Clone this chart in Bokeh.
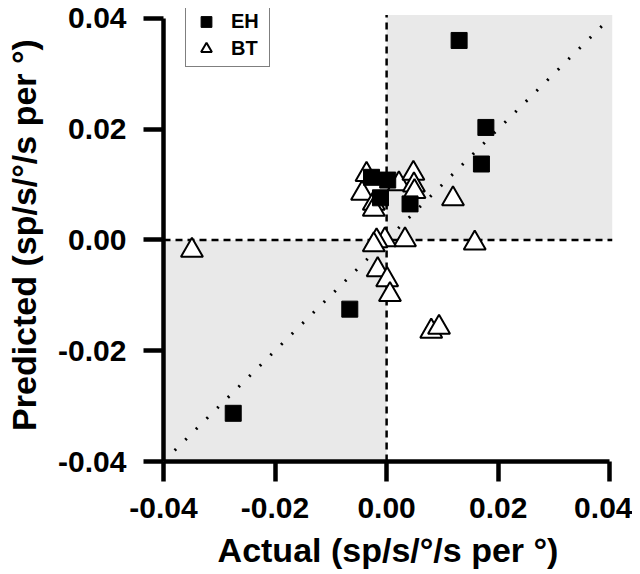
from bokeh.plotting import figure
from bokeh.models import Range1d, FixedTicker, Legend, LegendItem
from bokeh.embed import file_html
from bokeh.resources import INLINE

# ---- data ----
eh_x = [0.0130, 0.0178, 0.0170, 0.0042, -0.0066, -0.0275, -0.0027, 0.0002, -0.0011]
eh_y = [0.0360, 0.0203, 0.0137, 0.0065, -0.0125, -0.0313, 0.0113, 0.0108, 0.0076]

bt_x = [-0.0349, -0.0036, -0.0044, -0.0023, -0.0023, 0.0022, 0.0048, 0.0049, 0.0050,
        0.0119, 0.0158, 0.0033, -0.0003, -0.0018, -0.0023, -0.0016, 0.0001, 0.0006,
        0.0080, 0.0094]
bt_y = [-0.0019, 0.0118, 0.0084, 0.0066, 0.0055, 0.0101, 0.0120, 0.0099, 0.0087,
        0.0074, -0.0006, 0.0000, 0.0000, -0.0002, -0.0009, -0.0054, -0.0072, -0.0099,
        -0.0165, -0.0158]

ticks = [-0.04, -0.02, 0.0, 0.02, 0.04]
tick_labels = ["-0.04", "-0.02", "0.00", "0.02", "0.04"]

# reference regions (quadrants of agreement) and identity line
shade_left = [0.0, -0.04]
shade_right = [0.0405, 0.0]
shade_bottom = [0.0, -0.04]
shade_top = [0.0406, 0.0]
diag = [-0.038, 0.0395]

FONT = "Liberation Sans"

p = figure(width=632, height=574, output_backend="svg", toolbar_location=None,
           x_range=Range1d(-0.04, 0.0405), y_range=Range1d(-0.04, 0.04177),
           min_border_left=163, min_border_right=20, min_border_top=8,
           min_border_bottom=113)
p.outline_line_color = None
p.xgrid.visible = False
p.ygrid.visible = False
p.background_fill_color = "white"

p.quad(left=shade_left, right=shade_right, bottom=shade_bottom, top=shade_top,
       fill_color="#e9e9e9", line_color=None)

p.segment(x0=[0.0], y0=[-0.04], x1=[0.0], y1=[0.0406], line_color="black",
          line_width=2.5, line_dash="7 5")
p.segment(x0=[-0.04], y0=[0.0], x1=[0.0405], y1=[0.0], line_color="black",
          line_width=2.5, line_dash="7 5")
p.line(diag, diag, line_color="black", line_width=3, line_dash="2 13")

r_bt = p.scatter(bt_x, bt_y, marker="triangle", size=22, fill_color="white",
                 line_color="black", line_width=2)
r_eh = p.scatter(eh_x, eh_y, marker="square", size=16, fill_color="black",
                 line_color="black")

for ax, lbl in ((p.xaxis[0], "Actual (sp/s/°/s per °)"),
                (p.yaxis[0], "Predicted (sp/s/°/s per °)")):
    ax.bounds = (-0.04, 0.04)
    ax.ticker = FixedTicker(ticks=ticks)
    ax.major_label_overrides = {t: s for t, s in zip(ticks, tick_labels)}
    ax.axis_line_width = 4.5
    ax.axis_line_color = "black"
    ax.major_tick_line_width = 4.5
    ax.major_tick_line_color = "black"
    ax.major_tick_in = 0
    ax.major_tick_out = 20
    ax.minor_tick_line_color = None
    ax.major_label_text_font = FONT
    ax.major_label_text_font_style = "bold"
    ax.major_label_text_font_size = "30px"
    ax.major_label_text_color = "black"
    ax.axis_label = lbl
    ax.axis_label_text_font = FONT
    ax.axis_label_text_font_style = "bold"
    ax.axis_label_text_font_size = "34px"
    ax.axis_label_text_color = "black"

p.xaxis[0].major_label_standoff = 16
p.xaxis[0].axis_label_standoff = 10
p.yaxis[0].major_label_standoff = 17
p.yaxis[0].axis_label_standoff = 12

legend = Legend(items=[LegendItem(label="EH", renderers=[r_eh]),
                       LegendItem(label="BT", renderers=[r_bt])],
                location=(22, 394))
legend.label_text_font = FONT
legend.label_text_font_style = "bold"
legend.label_text_font_size = "20px"
legend.label_text_color = "black"
legend.glyph_width = 32
legend.glyph_height = 27
legend.label_height = 20
legend.label_width = 34
legend.label_standoff = 9
legend.spacing = 0
legend.padding = 4
legend.margin = 0
legend.border_line_color = "black"
legend.border_line_width = 1.5
legend.background_fill_alpha = 1
p.add_layout(legend, "center")

open("out.html", "w").write(file_html(p, INLINE))
